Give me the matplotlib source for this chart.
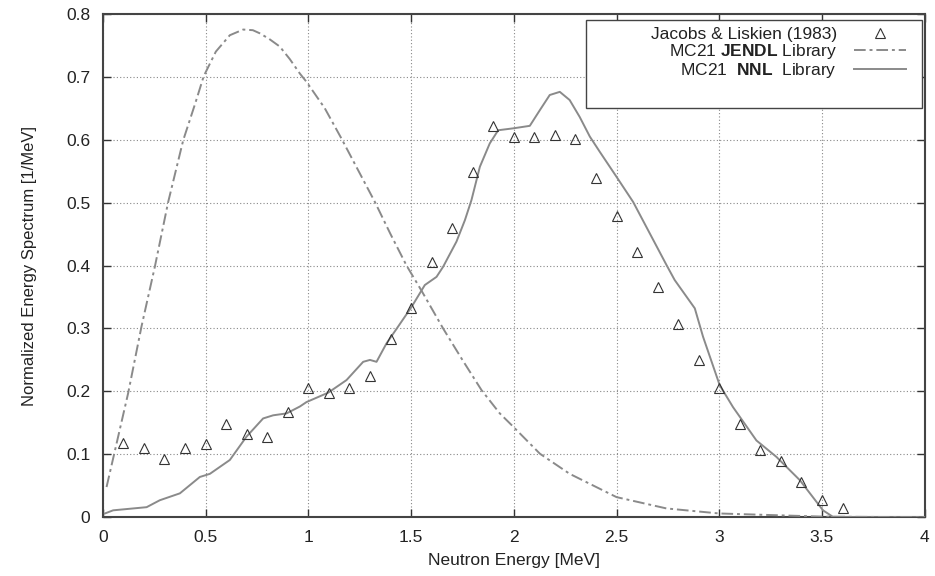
import matplotlib
matplotlib.use("Agg")
import matplotlib.pyplot as plt
from matplotlib.patches import Rectangle

plt.rcParams['font.family'] = ['Liberation Sans', 'DejaVu Sans']
plt.rcParams['mathtext.fontset'] = 'custom'
plt.rcParams['mathtext.bf'] = 'Liberation Sans:bold'

# Experimental data: Jacobs & Liskien (1983)
exp_x = [0.1, 0.2, 0.3, 0.4, 0.5, 0.6, 0.7, 0.8, 0.9, 1.0, 1.1, 1.2, 1.3, 1.4,
         1.5, 1.6, 1.7, 1.8, 1.9, 2.0, 2.1, 2.2, 2.3, 2.4, 2.5, 2.6, 2.7, 2.8,
         2.9, 3.0, 3.1, 3.2, 3.3, 3.4, 3.5, 3.6]
exp_y = [0.118, 0.110, 0.093, 0.110, 0.117, 0.148, 0.133, 0.128, 0.168, 0.205,
         0.198, 0.205, 0.225, 0.283, 0.332, 0.405, 0.460, 0.548, 0.621, 0.604,
         0.604, 0.608, 0.601, 0.539, 0.479, 0.421, 0.366, 0.307, 0.250, 0.206,
         0.148, 0.107, 0.090, 0.056, 0.028, 0.015]

# MC21 JENDL library
jendl_x = [0.018, 0.123, 0.188, 0.253, 0.318, 0.391, 0.45, 0.491, 0.55, 0.618,
           0.683, 0.73, 0.764, 0.81, 0.861, 0.91, 0.959, 0.991, 1.08, 1.161,
           1.24, 1.324, 1.40, 1.478, 1.551, 1.656, 1.75, 1.843, 1.932, 1.997,
           2.127, 2.272, 2.5, 2.743, 3.0, 3.5, 4.0]
jendl_y = [0.048, 0.197, 0.303, 0.398, 0.501, 0.599, 0.658, 0.701, 0.740, 0.766,
           0.775, 0.774, 0.769, 0.760, 0.748, 0.728, 0.705, 0.692, 0.650, 0.602,
           0.553, 0.501, 0.450, 0.400, 0.360, 0.300, 0.250, 0.202, 0.165, 0.144,
           0.101, 0.069, 0.032, 0.014, 0.006, 0.001, 0.0]

# MC21 NNL library
nnl_x = [0.01, 0.05, 0.213, 0.277, 0.375, 0.472, 0.521, 0.618, 0.699, 0.78,
         0.829, 0.894, 0.959, 0.991, 1.097, 1.186, 1.267, 1.3, 1.332, 1.38,
         1.437, 1.502, 1.567, 1.624, 1.656, 1.721, 1.762, 1.794, 1.835, 1.883,
         1.924, 1.997, 2.078, 2.127, 2.175, 2.224, 2.272, 2.321, 2.37, 2.418,
         2.5, 2.581, 2.662, 2.743, 2.783, 2.881, 2.921, 3.002, 3.067, 3.181,
         3.278, 3.392, 3.505, 3.554, 3.8, 4.0]
nnl_y = [0.006, 0.011, 0.016, 0.027, 0.038, 0.064, 0.069, 0.091, 0.128, 0.157,
         0.162, 0.165, 0.176, 0.183, 0.198, 0.218, 0.247, 0.250, 0.247, 0.276,
         0.303, 0.334, 0.369, 0.382, 0.398, 0.438, 0.472, 0.504, 0.557, 0.594,
         0.615, 0.618, 0.622, 0.647, 0.671, 0.676, 0.663, 0.636, 0.605, 0.581,
         0.541, 0.501, 0.451, 0.401, 0.377, 0.332, 0.287, 0.210, 0.175, 0.122,
         0.096, 0.059, 0.011, 0.0005, 0.0, 0.0]

x_ticks = [0, 0.5, 1, 1.5, 2, 2.5, 3, 3.5, 4]
x_tick_labels = ['0', '0.5', '1', '1.5', '2', '2.5', '3', '3.5', '4']
y_ticks = [0, 0.1, 0.2, 0.3, 0.4, 0.5, 0.6, 0.7, 0.8]
y_tick_labels = ['0', '0.1', '0.2', '0.3', '0.4', '0.5', '0.6', '0.7', '0.8']

fig = plt.figure(figsize=(9.35, 5.76), dpi=100)
ax = fig.add_axes([0.110, 0.102, 0.879, 0.874])

line_col = '#8a8a8a'
ax.plot(exp_x, exp_y, linestyle='none', marker='^', markersize=6.5,
        markerfacecolor='none', markeredgecolor='#333333', markeredgewidth=0.8,
        label='Jacobs & Liskien (1983)', zorder=4)
ax.plot(jendl_x, jendl_y, color=line_col, linewidth=1.4,
        linestyle=(0, (6, 2, 1.5, 2)), label=r'MC21 $\mathbf{JENDL}$ Library', zorder=3)
ax.plot(nnl_x, nnl_y, color=line_col, linewidth=1.4, linestyle='-',
        label=r'MC21  $\mathbf{NNL}$  Library', zorder=3)

ax.set_xlim(0, 4)
ax.set_ylim(0, 0.8)
ax.set_xticks(x_ticks)
ax.set_xticklabels(x_tick_labels)
ax.set_yticks(y_ticks)
ax.set_yticklabels(y_tick_labels)
ax.tick_params(direction='in', length=6, width=1.0, top=True, right=True,
               labelsize=12.5, pad=9, colors='#333333', labelcolor='#222222')
ax.grid(True, linestyle=(0, (1, 2)), color='#888888', linewidth=0.8)
for s in ax.spines.values():
    s.set_linewidth(1.5)
    s.set_color('#444444')

ax.set_xlabel('Neutron Energy [MeV]', fontsize=12.5, color='#222222', labelpad=6)
ax.set_ylabel('Normalized Energy Spectrum [1/MeV]', fontsize=12, color='#222222', labelpad=21)

# legend frame (gnuplot-style box)
ax.add_patch(Rectangle((0.588, 0.813), 0.409, 0.174, transform=ax.transAxes,
                       facecolor='white', edgecolor='#444444', linewidth=1.0, zorder=5))
leg = ax.legend(loc='upper right', bbox_to_anchor=(0.99, 0.995), frameon=False,
                markerfirst=False, fontsize=12.5, labelspacing=0.0,
                handlelength=3.0, handletextpad=1.0, borderaxespad=0.2)
leg.set_zorder(6)
for t in leg.get_texts():
    t.set_color('#222222')

fig.savefig('out.png', dpi=100)
